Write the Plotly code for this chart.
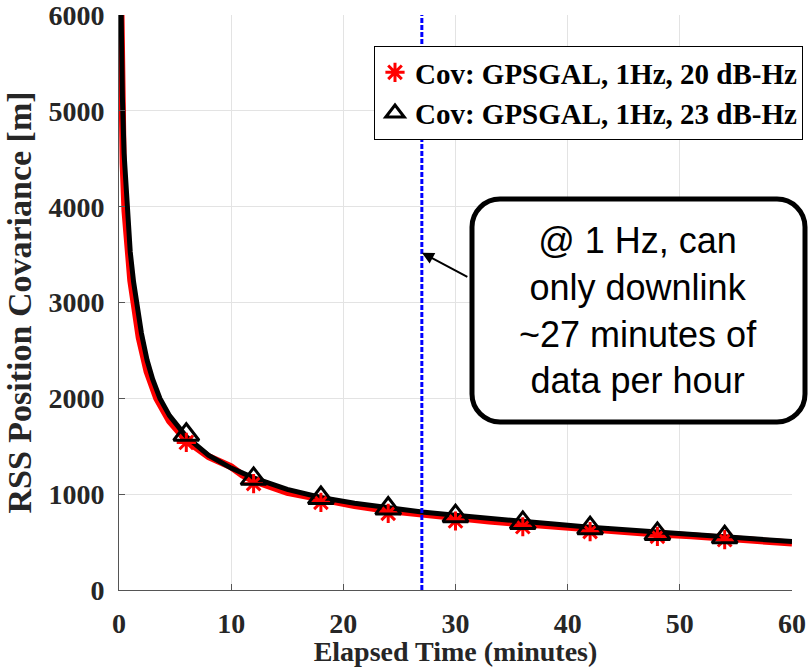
import plotly.graph_objects as go

# ---------------- data ----------------
t_black = [0.1, 0.18, 0.3, 0.45, 0.7, 1.0, 1.3, 1.58, 2.0, 2.5, 3.0, 3.65, 4.5, 6, 8, 10,
           12, 15, 18, 21, 24, 27, 30, 33, 36, 39, 42, 45, 48, 51, 54, 57, 60]
cov_black = [6800, 6000, 5150, 4560, 4000, 3530, 3215, 3000, 2680, 2400, 2200, 2000, 1820,
             1600, 1405, 1272, 1170, 1050, 965, 905, 855, 815, 780, 745, 715, 685, 655,
             630, 600, 580, 560, 530, 505]

t_red = [0.08, 0.15, 0.25, 0.37, 0.53, 0.8, 1.05, 1.34, 1.8, 2.5, 3.36, 4.5, 6, 8, 9, 10,
         11, 12, 15, 18, 21, 24, 27, 30, 33, 36, 39, 42, 45, 48, 51, 54, 57, 60]
cov_red = [6800, 6000, 5070, 4450, 3960, 3500, 3230, 3000, 2635, 2280, 2000, 1765, 1560,
           1390, 1335, 1285, 1200, 1140, 1020, 945, 880, 830, 790, 750, 720, 690, 660, 635,
           610, 585, 565, 545, 515, 490]

t_marks = [6, 12, 18, 24, 30, 36, 42, 48, 54]
marks_red = [1540, 1110, 915, 800, 720, 660, 610, 560, 525]
marks_black = [1620, 1160, 960, 850, 770, 700, 645, 585, 550]

vline_x = 27
y_range = [0, 6000.5]
x_range = [0, 60]
x_ticks = [0, 10, 20, 30, 40, 50, 60]
y_ticks = [0, 1000, 2000, 3000, 4000, 5000, 6000]

arrow_target = (27, 3520)
label_red = "Cov: GPSGAL, 1Hz, 20 dB-Hz"
label_black = "Cov: GPSGAL, 1Hz, 23 dB-Hz"
note_text = "@ 1 Hz, can<br>only downlink<br>~27 minutes of<br>data per hour"

# ---------------- layout geometry ----------------
W, H = 809, 667
ML, MR, MT, MB = 119, 17, 15, 77
PW, PH = W - ML - MR, H - MT - MB


def px2paper(px, py):
    return (px - ML) / PW, (H - MB - py) / PH


SERIF = "Liberation Serif"
TXT = "#262626"

fig = go.Figure()

fig.add_trace(go.Scatter(x=t_red, y=cov_red, mode="lines", line=dict(color="#ff0000", width=7),
                         showlegend=False, hoverinfo="skip"))
fig.add_trace(go.Scatter(x=t_black, y=cov_black, mode="lines", line=dict(color="#000000", width=5),
                         showlegend=False, hoverinfo="skip"))
fig.add_trace(go.Scatter(x=[vline_x, vline_x], y=[0, 6000], mode="lines",
                         line=dict(color="#0000ff", width=3, dash="5px,2px"), showlegend=False))
fig.add_trace(go.Scatter(x=t_marks, y=marks_red, mode="markers", name=label_red,
                         marker=dict(symbol="asterisk-open", size=16, color="#ff0000",
                                     line=dict(color="#ff0000", width=3))))
fig.add_trace(go.Scatter(x=t_marks, y=marks_black, mode="markers", name=label_black,
                         marker=dict(symbol="triangle-up-open", size=22, color="#000000",
                                     line=dict(color="#000000", width=3))))

# rounded box for the note
bx0, by0, bx1, by1, r = 472, 199, 805, 422, 28
x0, y0 = px2paper(bx0, by0)
x1, y1 = px2paper(bx1, by1)
rx, ry = r / PW, r / PH
k = 0.5523
path = (
    f"M {x0+rx},{y0} L {x1-rx},{y0} "
    f"C {x1-rx+k*rx},{y0} {x1},{y0-ry+k*ry} {x1},{y0-ry} "
    f"L {x1},{y1+ry} "
    f"C {x1},{y1+ry-k*ry} {x1-rx+k*rx},{y1} {x1-rx},{y1} "
    f"L {x0+rx},{y1} "
    f"C {x0+rx-k*rx},{y1} {x0},{y1+ry-k*ry} {x0},{y1+ry} "
    f"L {x0},{y0-ry} "
    f"C {x0},{y0-ry+k*ry} {x0+rx-k*rx},{y0} {x0+rx},{y0} Z"
)
fig.add_shape(type="path", path=path, xref="paper", yref="paper",
              line=dict(color="black", width=5), fillcolor="white", layer="above")

cx, cy = px2paper((bx0 + bx1) / 2 - 1, (by0 + by1) / 2)
fig.add_annotation(x=cx, y=cy, xref="paper", yref="paper", text=note_text, showarrow=False,
                   font=dict(family="Liberation Sans", size=36, color="black"),
                   align="center", xanchor="center", yanchor="middle")

fig.add_annotation(x=arrow_target[0], y=arrow_target[1], xref="x", yref="y", text="",
                   showarrow=True, ax=47, ay=25, axref="pixel", ayref="pixel",
                   arrowhead=2, arrowsize=1.2, arrowwidth=2, arrowcolor="black", standoff=0)

axis_common = dict(
    showgrid=True, gridcolor="#e3e3e3", gridwidth=1,
    showline=True, linecolor="#555555", linewidth=1,
    ticks="inside", ticklen=6, tickcolor="#555555",
    tickfont=dict(family=SERIF, size=28, color=TXT, weight="bold"),
    zeroline=False, ticklabeloverflow="allow",
)

fig.update_xaxes(range=x_range, tickvals=x_ticks, ticklabelstandoff=8,
                 title=dict(text="Elapsed Time (minutes)", standoff=12,
                            font=dict(family=SERIF, size=28, color=TXT, weight="bold")),
                 **axis_common)
fig.update_yaxes(range=y_range, tickvals=y_ticks, ticklabelstandoff=8,
                 title=dict(text="RSS Position Covariance [m]", standoff=6,
                            font=dict(family=SERIF, size=34, color=TXT, weight="bold")),
                 **axis_common)

lx, ly = px2paper(803, 46)
fig.update_layout(
    width=W, height=H,
    margin=dict(l=ML, r=MR, t=MT, b=MB, autoexpand=False),
    plot_bgcolor="white", paper_bgcolor="white",
    legend=dict(x=lx, y=ly, xanchor="right", yanchor="top",
                bgcolor="white", bordercolor="black", borderwidth=1,
                font=dict(family=SERIF, size=29, color="black", weight="bold")),
)

fig.write_html("out.html")
